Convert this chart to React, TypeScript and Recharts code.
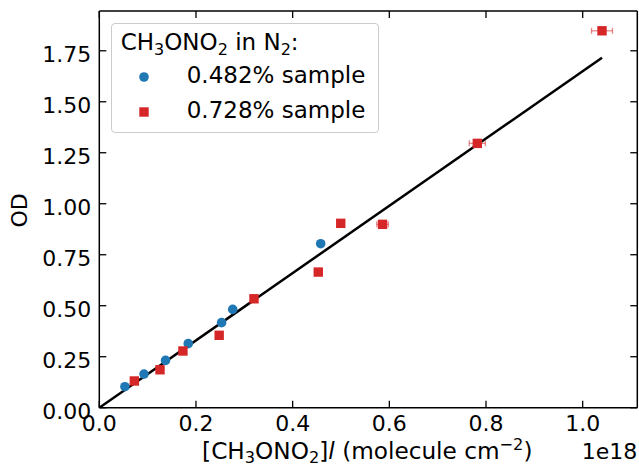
import React from "react";
import {
  ScatterChart,
  Scatter,
  XAxis,
  YAxis,
  ErrorBar,
  Legend,
} from "recharts";

// x values are in units of 1e18 molecule cm^-2
const blueConc = [0.053, 0.0925, 0.137, 0.184, 0.253, 0.276, 0.458];
const blueOD = [0.103, 0.165, 0.232, 0.314, 0.417, 0.482, 0.804];

const redConc = [0.0725, 0.1256, 0.173, 0.248, 0.32, 0.453, 0.4995, 0.586, 0.782, 1.04];
const redOD = [0.131, 0.186, 0.278, 0.355, 0.534, 0.665, 0.904, 0.899, 1.296, 1.848];
const redConcErr = [0, 0, 0, 0, 0, 0, 0.004, 0.012, 0.0166, 0.0217];

const fitConc = [0, 1.04];
const fitOD = [0, 1.716];

const xTicks = [0, 0.2, 0.4, 0.6, 0.8, 1.0];
const yTicks = [0, 0.25, 0.5, 0.75, 1.0, 1.25, 1.5, 1.75];

const blueData = blueConc.map((x, i) => ({ x, y: blueOD[i] }));
const redData = redConc.map((x, i) => ({ x, y: redOD[i], xErr: redConcErr[i] }));
const fitData = fitConc.map((x, i) => ({ x, y: fitOD[i] }));

const FONT = "DejaVu Sans";
const BLUE = "#1f77b4";
const RED = "#d62728";
const TICK_LEN = 7;

const BottomTick = (props: any) => {
  const { x, y, payload } = props;
  return (
    <g>
      <line x1={x} y1={y} x2={x} y2={y - TICK_LEN} stroke="#000" strokeWidth={1.3} />
      <text x={x} y={y + 23.3} textAnchor="middle" fontFamily={FONT} fontSize={22} fill="#000">
        {payload.value.toFixed(1)}
      </text>
    </g>
  );
};

const LeftTick = (props: any) => {
  const { x, y, payload } = props;
  return (
    <g>
      <line x1={x} y1={y} x2={x + TICK_LEN} y2={y} stroke="#000" strokeWidth={1.3} />
      <text x={x - 8} y={y + 11} textAnchor="end" fontFamily={FONT} fontSize={22} fill="#000">
        {payload.value.toFixed(2)}
      </text>
    </g>
  );
};

const TopTick = (props: any) => (
  <line x1={props.x} y1={props.y} x2={props.x} y2={props.y + TICK_LEN} stroke="#000" strokeWidth={1.3} />
);

const RightTick = (props: any) => (
  <line x1={props.x} y1={props.y} x2={props.x - TICK_LEN} y2={props.y} stroke="#000" strokeWidth={1.3} />
);

const XLabel = (props: any) => {
  const vb = props.viewBox;
  const cx = vb.x + vb.width / 2 - 1;
  const by = vb.y + 50.8;
  return (
    <g fontFamily={FONT} fill="#000">
      <text x={cx} y={by} textAnchor="middle" fontSize={23.2}>
        <tspan>[CH</tspan>
        <tspan dy={4} fontSize={16.2}>3</tspan>
        <tspan dy={-4}>ONO</tspan>
        <tspan dy={4} fontSize={16.2}>2</tspan>
        <tspan dy={-4}>]</tspan>
        <tspan fontStyle="italic">l</tspan>
        <tspan> (molecule cm</tspan>
        <tspan dy={-9} fontSize={16.2}>−2</tspan>
        <tspan dy={9}>)</tspan>
      </text>
      <text x={vb.x + vb.width} y={by + 0.7} textAnchor="end" fontSize={22}>
        1e18
      </text>
    </g>
  );
};

const YLabel = (props: any) => {
  const vb = props.viewBox;
  const cx = vb.x + 27;
  const cy = vb.y + vb.height / 2 + 1;
  return (
    <text
      x={cx}
      y={cy}
      textAnchor="middle"
      transform={`rotate(-90, ${cx}, ${cy})`}
      fontFamily={FONT}
      fontSize={22}
      fill="#000"
    >
      OD
    </text>
  );
};

const LegendBox = () => (
  <div
    style={{
      position: "relative",
      width: 268,
      height: 110,
      boxSizing: "border-box",
      border: "1px solid #cccccc",
      borderRadius: 4,
      background: "rgba(255,255,255,0.8)",
      fontFamily: FONT,
      fontSize: 23,
      lineHeight: "23px",
      color: "#000",
    }}
  >
    <div style={{ position: "absolute", left: 9, top: 7, whiteSpace: "nowrap" }}>
      CH<sub style={{ fontSize: 16, verticalAlign: -5, lineHeight: 0 }}>3</sub>ONO
      <sub style={{ fontSize: 16, verticalAlign: -5, lineHeight: 0 }}>2</sub> in N
      <sub style={{ fontSize: 16, verticalAlign: -5, lineHeight: 0 }}>2</sub>:
    </div>
    <svg style={{ position: "absolute", left: 26, top: 47 }} width={12} height={12}>
      <circle cx={6} cy={6} r={4.8} fill={BLUE} />
    </svg>
    <div style={{ position: "absolute", left: 75, top: 40, whiteSpace: "nowrap" }}>0.482% sample</div>
    <svg style={{ position: "absolute", left: 26, top: 82 }} width={12} height={12}>
      <rect x={1.3} y={1.3} width={9.4} height={9.4} fill={RED} />
    </svg>
    <div style={{ position: "absolute", left: 75, top: 75, whiteSpace: "nowrap" }}>0.728% sample</div>
  </div>
);

const Circle = (props: any) => <circle cx={props.cx} cy={props.cy} r={4.8} fill={BLUE} />;
const Square = (props: any) => (
  <rect x={props.cx - 4.7} y={props.cy - 4.7} width={9.4} height={9.4} fill={RED} />
);
const NoMarker = () => <g />;

export default function App() {
  return (
    <div style={{ position: "absolute", left: 0, top: 0, background: "#fff" }}>
      <ScatterChart
        width={639}
        height={466}
        margin={{ top: 10, right: 0.7, bottom: 0, left: 0 }}
      >
        <XAxis
          xAxisId="main"
          type="number"
          dataKey="x"
          domain={[0, 1.113]}
          allowDataOverflow
          ticks={xTicks}
          interval={0}
          height={58.3}
          tickSize={0}
          tickMargin={0}
          tickLine={false}
          axisLine={{ stroke: "#000", strokeWidth: 1.5 }}
          tick={<BottomTick />}
          label={<XLabel />}
        />
        <XAxis
          xAxisId="top"
          orientation="top"
          type="number"
          dataKey="x"
          domain={[0, 1.113]}
          allowDataOverflow
          ticks={xTicks}
          interval={0}
          height={1}
          tickSize={0}
          tickMargin={0}
          tickLine={false}
          axisLine={{ stroke: "#000", strokeWidth: 1.5 }}
          tick={<TopTick />}
        />
        <YAxis
          yAxisId="main"
          type="number"
          dataKey="y"
          domain={[0, 1.945]}
          allowDataOverflow
          ticks={yTicks}
          interval={0}
          width={99.3}
          tickSize={0}
          tickMargin={0}
          tickLine={false}
          axisLine={{ stroke: "#000", strokeWidth: 1.5 }}
          tick={<LeftTick />}
          label={<YLabel />}
        />
        <YAxis
          yAxisId="right"
          orientation="right"
          type="number"
          dataKey="y"
          domain={[0, 1.945]}
          allowDataOverflow
          ticks={yTicks}
          interval={0}
          width={1}
          tickSize={0}
          tickMargin={0}
          tickLine={false}
          axisLine={{ stroke: "#000", strokeWidth: 1.5 }}
          tick={<RightTick />}
        />
        <Legend
          layout="vertical"
          align="center"
          verticalAlign="middle"
          content={<LegendBox />}
          wrapperStyle={{ position: "absolute", left: 110.7, top: 22.7, width: 268, height: 110 }}
        />
        {/* invisible series so the mirrored top/right axes are drawn */}
        <Scatter
          data={fitData}
          xAxisId="top"
          yAxisId="right"
          shape={<NoMarker />}
          isAnimationActive={false}
          legendType="none"
        />
        <Scatter
          data={fitData}
          xAxisId="main"
          yAxisId="main"
          line={{ stroke: "#000", strokeWidth: 2.5 }}
          lineType="joint"
          shape={<NoMarker />}
          isAnimationActive={false}
          legendType="none"
        />
        <Scatter
          data={blueData}
          xAxisId="main"
          yAxisId="main"
          shape={<Circle />}
          isAnimationActive={false}
        />
        <Scatter
          data={redData}
          xAxisId="main"
          yAxisId="main"
          shape={<Square />}
          isAnimationActive={false}
        >
          <ErrorBar
            dataKey="xErr"
            direction="x"
            width={3}
            stroke={RED}
            strokeOpacity={0.55}
            strokeWidth={1.3}
            isAnimationActive={false}
          />
        </Scatter>
      </ScatterChart>
    </div>
  );
}
